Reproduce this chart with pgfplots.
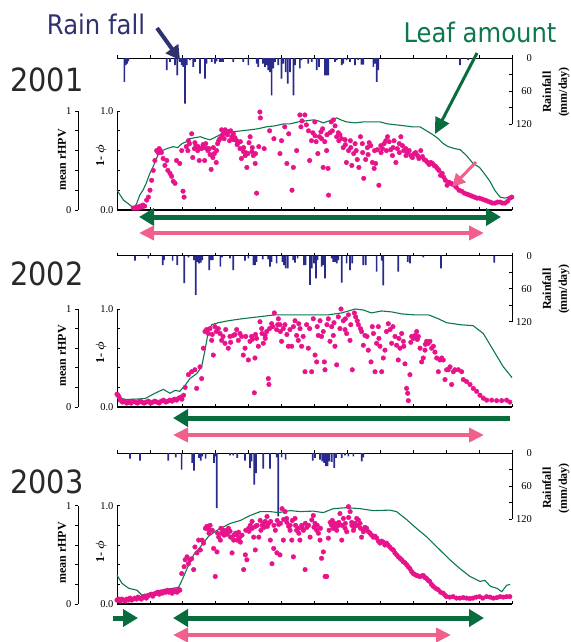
\documentclass[border=0pt]{standalone}
\usepackage{fontspec}
\setmainfont{Liberation Serif}
\newfontfamily\labfont{DejaVu Sans}[FakeStretch=0.9]
\usepackage{amsmath}
\usepackage{pgfplots}
\pgfplotsset{compat=1.18}
\usetikzlibrary{arrows.meta}

\definecolor{rainblue}{RGB}{40,42,140}
\definecolor{rainnavy}{RGB}{46,50,110}
\definecolor{leafgreen}{RGB}{12,120,75}
\definecolor{arrgreen}{RGB}{8,108,62}
\definecolor{dotpink}{RGB}{232,18,138}
\definecolor{arrpink}{RGB}{240,96,138}
\definecolor{yeargray}{RGB}{40,40,40}

\pgfplotsset{
  tlab/.style={font=\fontsize{10.5}{12}\selectfont},
  months/.style={xtick={0,30.42,60.83,91.25,121.67,152.08,182.5,212.92,243.33,273.75,304.17,334.58,365}, xticklabels={}},
  rainax/.style={scale only axis, width=395pt, height=66pt,
    xmin=0, xmax=365, ymin=-120, ymax=0,
    axis x line=top, axis y line=right, axis line style={-, line width=0.9pt},
    months, ytick={-120,-90,-60,-30,0}, yticklabels={120,,60,,0},
    tick align=inside, major tick length=3pt, tick style={black, line width=0.7pt},
    xtick style={yshift=3pt},
    ticklabel style={tlab}, yticklabel style={anchor=east, inner sep=0pt, xshift=20pt},
    clip=false},
  mainax/.style={scale only axis, width=395pt,
    xmin=0, xmax=365, ymin=0, ymax=1,
    axis x line=bottom, axis y line=left, axis line style={-},
    x axis line style={-, line width=1.6pt}, y axis line style={-, line width=0.9pt},
    months, ytick={0,0.2,0.4,0.6,0.8,1}, yticklabels={0.0,,,,,1.0},
    tick align=inside, major tick length=3pt, tick style={black, line width=0.7pt},
    ticklabel style={tlab}, clip=false},
  rhpvax/.style={scale only axis, width=1pt,
    xmin=0, xmax=1, ymin=0, ymax=1, hide x axis, axis y line=left,
    axis line style={-, line width=0.9pt},
    ytick={0,0.2,0.4,0.6,0.8,1}, yticklabels={0,,,,,1},
    tick align=outside, major tick length=3pt, tick style={black, line width=0.7pt},
    ticklabel style={tlab}},
  rainbars/.style={ybar, bar width=1.7pt, bar shift=0pt, fill=rainblue, draw=none},
  greenline/.style={leafgreen, line width=1.1pt, mark=none},
  dots/.style={color=dotpink, only marks, mark=*, mark size=2.3pt, mark options={fill=dotpink, draw=dotpink}},
}

\begin{document}
\begin{tikzpicture}
\path[use as bounding box] (0pt,0pt) rectangle (570pt,-642pt);

% ---------------- 2001 ----------------
\begin{axis}[rainax, at={(117pt,-124pt)}, anchor=south west]
\addplot[rainbars] coordinates {(6.8,-43.6) (8,-13) (9.2,-10) (10.5,-6) (45.9,-22) (49,-7) (53.6,-13) (55.7,-31.5) (58,-7) (59.7,-13) (61.3,-16) (62.8,-83) (64.4,-13) (67.4,-4) (70.5,-16) (72,-7) (76.7,-28.5) (81.3,-37.6) (82.8,-10) (87.5,-7) (90.5,-10) (92,-6) (95,-7) (96.7,-7) (98,-7) (107.5,-7) (116.7,-7) (121.4,-13) (129,-10) (130.6,-16) (135,-10) (136.7,-16) (138,-13) (139.8,-22) (141.4,-25.5) (142.9,-68) (144.4,-19) (146,-7) (149,-13) (152,-37.6) (153.7,-10) (155.8,-25.5) (157.7,-46.7) (159.8,-25.5) (163,-68) (164.5,-13) (169,-19) (170.6,-4) (176.8,-10) (180,-7) (184.5,-22) (186.6,-16) (192.2,-31.5) (193.7,-31.5) (195.3,-31.5) (201.4,-7) (203,-4) (207.6,-13) (209.1,-10) (212.2,-4) (215.3,-7) (220,-13) (223,-4) (226,-12) (227.6,-12) (236.9,-16) (238.4,-10) (240,-43.6) (241.5,-22) (317,-13) (324.6,-4)};
\end{axis}
\begin{axis}[mainax, height=99pt, at={(117pt,-210pt)}, anchor=south west]
\addplot[dots] coordinates {(15,.02) (16.5,.02) (18,.02) (18.5,.03) (20,.02) (21.6,.04) (23,.03) (24,.05) (25.5,.04) (27.4,.1) (29,.13) (30.5,.2) (32,.3) (33.5,.4) (35,.5) (36.7,.6) (38,.58) (39,.62) (40,.6) (41,.58) (42.6,.52) (44.3,.45) (46,.5) (47,.4) (49,.37) (50.5,.34) (52,.29) (53.6,.27) (55,.5) (58,.47) (59.8,.6) (61,.19) (62,.13) (64,.64) (65.5,.6) (67,.67) (69,.77) (70,.53) (71.5,.62) (73,.65) (74.5,.6) (76,.5) (78,.62) (79.5,.66) (81,.5) (82,.67) (84,.6) (85,.62) (87,.41) (88.6,.53) (90,.57) (91.7,.48) (93,.67) (95,.72) (96.7,.81) (98,.77) (100,.81) (101.5,.78) (103,.79) (104,.7) (106,.74) (107.5,.77) (109,.73) (110.6,.7) (112,.68) (113.7,.62) (115,.52) (116.8,.59) (118.5,.55) (120,.43) (121,.57) (123,.74) (124.7,.59) (126,.55) (127.7,.47) (129,.17) (131,.64) (132,.99) (132.5,.93) (136,.62) (141,.8) (145,.72) (150.6,.57) (152,.7) (155,.84) (157,.47) (158.7,.77) (161.7,.2) (163,.43) (166,.6) (169,.96) (171,.9) (173.6,.96) (175,.86) (178,.5) (179.7,.7) (181,.78) (182.8,.89) (184,.69) (185.6,.57) (187,.74) (188.5,.79) (190,.82) (190.5,.43) (192,.69) (193.7,.6) (195,.42) (195.5,.15) (196.7,.78) (198,.89) (200,.91) (201.5,.85) (203,.74) (204.5,.78) (206,.76) (207.5,.72) (209,.63) (210.8,.71) (212,.48) (214,.6) (215.6,.7) (217,.45) (218.7,.57) (220,.67) (222,.51) (223.5,.43) (225,.74) (226.7,.67) (228,.32) (229.8,.51) (231.4,.63) (233,.68) (234.5,.65) (236,.48) (237.6,.42) (239,.47) (240.7,.61) (242,.25) (243.8,.65) (245.3,.62) (246.8,.67) (248.4,.7) (250,.74) (251.5,.69) (253,.61) (254.5,.55) (256,.7) (257.7,.48) (259,.62) (260.8,.67) (262.3,.74) (263.8,.65) (265,.6) (266.8,.62) (268.4,.58) (270,.6) (271.5,.55) (273,.53) (274.6,.57) (276,.58) (277.7,.55) (279,.52) (280.7,.6) (282.2,.54) (283.8,.51) (285.4,.5) (287,.48) (288.5,.46) (290,.48) (291.5,.47) (293,.45) (294.5,.44) (296,.42) (297.5,.4) (299,.35) (300.5,.37) (302,.33) (303.5,.3) (305,.25) (306.8,.28) (308.6,.27) (310,.26) (311.7,.25) (313.5,.23) (316,.2) (318.5,.19) (321,.17) (323.5,.16) (325.8,.15) (328,.14) (330.4,.13) (332.7,.12) (335,.12) (337.5,.11) (340,.1) (342.3,.09) (344.7,.08) (347,.07) (349.3,.07) (351.6,.08) (354,.08) (356.3,.07) (358.6,.07) (361,.09) (363,.12) (364.8,.13)
(66,.7) (72,.68) (75,.64) (80,.63) (83,.62) (86,.56) (89,.63) (92,.6) (94,.7) (97,.75) (99,.72) (102,.76) (105,.8) (108,.71) (111,.66) (114,.69) (117,.63) (119,.58) (122,.68) (125,.63) (128,.57) (170,.84) (177,.8) (183,.75) (189,.72) (194,.76) (199,.8) (205,.7) (211,.66) (216,.63) (221,.6) (227,.58) (232,.56) (238,.6) (244,.58) (249,.6) (255,.63) (261,.58) (267,.55)};
\addplot[greenline] coordinates {(0,.20) (6,.10) (12,.05) (15,.02) (18,.06) (21,.15) (24,.2) (27,.27) (30,.36) (33.5,.44) (38,.56) (42,.6) (46,.62) (52,.64) (56,.63) (60,.67) (64,.69) (67,.72) (72,.73) (77,.74) (82,.72) (86,.71) (90,.73) (95,.76) (101,.77) (107.5,.79) (115,.8) (123,.81) (130,.82) (138,.84) (146,.85) (154,.87) (160,.87) (167.5,.89) (174,.9) (181,.91) (186,.9) (190.6,.88) (196,.9) (203,.93) (207,.91) (212,.89) (220,.88) (227.6,.89) (235,.89) (243,.89) (250,.87) (258,.86) (266,.85) (273,.84) (280,.84) (286,.8) (292,.76) (297,.72) (301.6,.67) (306,.64) (312,.62) (317,.61) (323,.55) (329,.47) (335,.43) (340,.36) (344.6,.29) (349,.2) (354,.13) (358,.12) (362,.13) (365,.14)};
\end{axis}
\begin{axis}[rhpvax, height=99pt, at={(78pt,-210pt)}, anchor=south west]
\end{axis}

% ---------------- 2002 ----------------
\begin{axis}[rainax, at={(117pt,-321.7pt)}, anchor=south west]
\addplot[rainbars] coordinates {(16.6,-9) (29,-4.8) (42.2,-17) (43.4,-8) (51.4,-9) (55.7,-17) (62.2,-50) (66,-3) (71.1,-8) (72.7,-71.4) (74.2,-11) (75.8,-14) (77.3,-12.6) (78.8,-8) (85.3,-26) (86.9,-8) (88.4,-8) (95.5,-20) (97,-3) (104.4,-4.8) (107.5,-26) (118.3,-9) (121.4,-4.8) (126,-17) (127.5,-17) (129,-11) (134.6,-6.6) (139.8,-6.6) (141.4,-20) (142.9,-11) (147.5,-14) (153,-11) (154.3,-17) (155.8,-23) (157.7,-23) (162.9,-8) (164.5,-12.6) (166.9,-4.8) (172.8,-17) (174.3,-17) (178.3,-53) (179.9,-23) (182,-14) (183.9,-41) (185.4,-8) (189.1,-20) (190.7,-17) (192.2,-41) (198.4,-4.8) (199.9,-11) (201.4,-11) (203,-14) (204.5,-8) (207.6,-49) (212.2,-14) (215.3,-26) (217.4,-14) (227.6,-17) (229.8,-17) (239.9,-29) (244.6,-9) (246,-54) (259.9,-29) (268.6,-11) (270.7,-14) (283,-3) (299.4,-23) (348.6,-12.6)};
\end{axis}
\begin{axis}[mainax, height=98pt, at={(117pt,-407pt)}, anchor=south west]
\addplot[dots] coordinates {(0,.13) (1,.12) (2,.1) (3,.07) (5,.05) (7,.06) (9,.04) (11,.05) (13,.04) (15,.06) (17,.05) (19,.04) (21,.06) (23,.05) (25,.04) (27,.05) (29,.06) (31,.04) (33,.05) (35,.06) (37,.05) (39,.04) (41,.06) (43,.07) (45,.05) (47,.06) (49,.07) (51,.06) (53,.08) (55,.07) (57,.09) (59,.1) (60,.08) (61.5,.12) (63,.2) (66,.33) (69,.36) (72,.38) (73.6,.19) (76.7,.41) (78.2,.29) (79.8,.6) (81.3,.77) (82.8,.79) (84.4,.75) (87.5,.68) (89,.53) (90.5,.82) (93.6,.8) (95.2,.75) (96.7,.68) (99.8,.65) (102.8,.6) (104.4,.72) (107.5,.73) (110.6,.79) (112.1,.68) (115.2,.72) (116.7,.53) (118.3,.6) (121.4,.48) (122.9,.67) (124.4,.72) (126.9,.145) (127.5,.5) (129,.7) (130.6,.62) (132.1,.87) (133.7,.8) (135.2,.65) (136.8,.73) (138.3,.77) (139.8,.29) (140.4,.23) (142.9,.85) (145.4,.96) (147.5,.79) (149.1,.9) (150.6,.84) (152.1,.67) (153.7,.8) (155.2,.84) (158.3,.62) (159.8,.79) (161.4,.62) (164.5,.88) (166,.73) (167.5,.68) (169.1,.8) (170.6,.62) (173.7,.36) (175.2,.84) (176.8,.6) (179.9,.36) (181.4,.9) (183,.53) (184.5,.46) (186,.73) (187.6,.88) (190.6,.77) (191.6,.46) (192.2,.38) (195.3,.9) (196.8,.67) (198.4,.82) (199.9,.73) (201.4,.62) (203,.43) (204.5,.92) (207,1.0) (209.1,.88) (210.7,.79) (212.2,.75) (213.8,.94) (215.3,.68) (217.4,.38) (219.3,.96) (220.5,.92) (223,.84) (226,.77) (227.6,.63) (229.1,.73) (232.2,.58) (234.7,.46) (235.9,.82) (238.4,.36) (239.9,.65) (241.5,.82) (243,.62) (244.6,.36) (246.1,.5) (247.6,.58) (250.7,.85) (252.3,.79) (253.8,.65) (256.9,.72) (258.4,.63) (259.9,.48) (261.5,.6) (263,.75) (264.6,.67) (266.1,.44) (267.6,.19) (268.6,.14) (269.2,.065) (270.7,.33) (272.3,.72) (273.8,.7) (275.4,.73) (276.9,.77) (278.4,.72) (281.5,.46) (283,.5) (284.6,.58) (286.1,.67) (287.7,.65) (289.2,.67) (290.7,.6) (292.3,.62) (293.8,.56) (295.4,.5) (296.9,.36) (298.4,.48) (300,.5) (301.5,.48) (303.1,.28) (304.6,.38) (306.1,.38) (307.7,.41) (309.2,.23) (310.8,.36) (312.3,.38) (315.4,.38) (318.5,.36) (320,.28) (323,.26) (326.2,.23) (329.2,.19) (332.3,.16) (335.4,.12) (338.5,.09) (341.6,.07) (346.2,.07) (350.8,.065) (355.4,.065) (360,.07) (363,.05)
(85.9,.8) (88,.74) (91.7,.77) (98,.72) (100.5,.79) (105,.66) (109,.74) (113.6,.75) (119,.72) (125,.69) (128,.74) (134,.75) (137,.7) (141,.8) (144,.82) (148.5,.84) (151,.77) (157,.74) (163,.82) (168,.85) (172,.72) (178,.8) (185,.82) (189,.72) (194,.84) (200.5,.86) (206,.8) (211,.9) (216,.84) (222,.88) (225,.8) (231,.72) (237,.75) (242,.7) (249,.77) (255,.82) (260.5,.7) (265,.62) (271.5,.66) (277.5,.69) (280,.6) (285,.64)};
\addplot[greenline] coordinates {(0,.105) (7.4,.077) (16.6,.08) (25.9,.086) (35,.14) (42.8,.18) (49,.14) (53.6,.17) (58,.16) (62.8,.22) (67.4,.29) (73.6,.34) (78.2,.41) (81.3,.58) (84.4,.77) (87.5,.84) (93.6,.86) (102.8,.88) (115,.9) (130.6,.92) (146,.94) (161.5,.94) (177,.94) (195,.94) (207.6,.96) (220,1.0) (227.6,.99) (235,.96) (244.6,.98) (254,.97) (263,.95) (275.4,.94) (288,.94) (297,.9) (304.6,.86) (317,.84) (329,.83) (338.5,.75) (347.7,.58) (357,.41) (365,.3)};
\end{axis}
\begin{axis}[rhpvax, height=98pt, at={(78pt,-407pt)}, anchor=south west]
\end{axis}

% ---------------- 2003 ----------------
\begin{axis}[rainax, at={(117pt,-519pt)}, anchor=south west]
\addplot[rainbars] coordinates {(12,-10.3) (21.2,-14) (47.4,-14) (54.2,-7.9) (59.7,-30) (69.6,-18) (71.1,-32) (75.8,-9) (77.3,-14) (78.8,-6) (81.9,-10.3) (89.6,-18) (90.5,-6) (92.1,-100) (104.4,-4.2) (107.5,-4.2) (111.2,-9) (118.3,-14) (122.9,-27.3) (124.4,-15.1) (126.9,-57.6) (128.4,-36.4) (135.2,-28.5) (141.4,-28.5) (147.5,-7.9) (149,-115) (152.1,-7.9) (155.8,-12) (180.8,-14) (182.9,-9) (187.6,-12) (189.7,-15) (191.5,-18) (193,-24) (194.6,-24) (196.2,-15) (198.4,-16) (200.8,-27) (202.4,-9) (207.6,-9) (210.7,-4.2) (213.8,-6) (218.4,-6) (226.1,-15) (227.6,-7.9)};
\end{axis}
\begin{axis}[mainax, height=98.3pt, at={(117pt,-604pt)}, anchor=south west]
\addplot[dots] coordinates {(0,.04) (1.5,.05) (3,.03) (4.5,.05) (6,.04) (7.5,.03) (9,.05) (10.5,.04) (12,.06) (13.5,.04) (15,.05) (16.5,.06) (18,.05) (19.5,.07) (21,.06) (22.5,.05) (24,.07) (25.5,.08) (27,.06) (28.5,.08) (30,.09) (31.5,.1) (33,.08) (34.5,.1) (36,.11) (37.5,.12) (39,.1) (40.5,.12) (42,.11) (43.5,.13) (45,.12) (46.5,.14) (48,.12) (49.5,.13) (51,.11) (52.5,.14) (54,.13) (55.5,.12) (57,.15) (58,.14) (59.8,.31) (62,.38) (63,.45) (64.7,.48) (66,.41) (67.5,.45) (69,.46) (70.8,.35) (72,.58) (73.9,.52) (75.4,.65) (77,.55) (78.6,.65) (80,.62) (81.7,.77) (83,.79) (84.5,.76) (86,.8) (89.3,.565) (90.8,.28) (92.4,.53) (94,.68) (95.5,.65) (97,.72) (98.6,.75) (100,.73) (101.7,.75) (103,.77) (104.5,.74) (106.3,.52) (107.8,.65) (109.4,.72) (110.9,.65) (112.4,.73) (114,.63) (115.5,.7) (117,.35) (118.6,.5) (120,.45) (121.7,.77) (123.2,.8) (124.8,.84) (126.3,.68) (127.8,.55) (129.4,.8) (131,.68) (132.3,.85) (134,.8) (135.5,.82) (137,.84) (138.6,.89) (140,.82) (141.7,.65) (143.2,.41) (144.8,.565) (146.3,.75) (147.8,.52) (149.4,.81) (150.6,.5) (152.5,.97) (153.7,.65) (154,.86) (155.3,.94) (156.8,.87) (158.6,.79) (159.9,.75) (161.5,.65) (163,.48) (164.5,.87) (166,.75) (167.6,.77) (169,.65) (170.7,.8) (172.3,.75) (173.8,.35) (175.4,.78) (178.4,.68) (180,.855) (181.4,.9) (183,.82) (184.5,.75) (186.1,.72) (187.6,.65) (189,.465) (190.7,.53) (192.3,.28) (193.8,.28) (195.3,.67) (197,.83) (198.4,.8) (200,.77) (201.5,.82) (203,.75) (204.6,.8) (206,.92) (207.7,.65) (209.2,.87) (210.8,.77) (212.3,.735) (213.8,.99) (215.4,.94) (216.9,.83) (218.5,.75) (220,.82) (221.5,.87) (223,.855) (224.6,.82) (226,.68) (227.7,.735) (229.2,.78) (230.7,.77) (232.3,.735) (233.8,.72) (235.3,.7) (236.9,.68) (238.4,.69) (240,.67) (241.5,.64) (243,.62) (244.5,.64) (246,.63) (247.5,.6) (249,.62) (250.5,.6) (252,.58) (253.7,.56) (255.3,.55) (256.8,.52) (258.4,.5) (260,.48) (261.4,.465) (263,.45) (264.5,.43) (266,.42) (267.6,.4) (269,.38) (270.7,.36) (272.2,.33) (273.7,.31) (275.3,.3) (276.8,.29) (278.3,.285) (279.9,.28) (281.5,.285) (283,.29) (284.5,.27) (286,.26) (287.5,.24) (289,.23) (290.6,.2) (292.2,.18) (294.5,.16) (296.8,.145) (299,.12) (301.4,.11) (303,.09) (304.5,.075) (307.5,.07) (310.6,.075) (313.7,.06) (316.8,.06) (320,.065) (323,.06) (326,.055) (329,.06) (332,.07) (335,.075) (338,.06) (341.5,.075) (344.6,.07) (347.7,.06) (351,.065) (354,.075) (357,.07) (360,.075) (363,.075)
(85,.72) (88,.75) (93,.72) (96,.77) (99,.7) (102,.71) (105,.68) (108,.7) (111,.7) (113,.67) (119,.75) (122,.74) (125,.77) (128,.79) (133,.75) (136,.78) (139,.79) (142,.84) (145,.8) (148,.85) (151,.82) (157,.83) (160,.8) (162,.85) (165,.8) (168,.72) (171,.77) (174,.82) (177,.8) (182,.78) (185,.8) (188,.77) (196,.75) (199,.85) (202,.78) (205,.83) (208,.8) (211,.82) (214,.88) (217,.8) (219,.78) (222,.8) (225,.77) (228,.75)};
\addplot[greenline] coordinates {(0,.295) (4.6,.21) (10.8,.16) (18.5,.14) (23,.09) (30.8,.11) (40,.14) (46,.15) (52,.16) (56.9,.17) (60,.24) (64.7,.36) (70.8,.5) (77,.58) (84.7,.69) (92.4,.75) (104.7,.82) (114,.85) (123,.9) (132.3,.94) (141.5,.94) (149.2,.93) (160,.95) (169.4,.94) (181.4,.945) (190.6,.93) (199.9,.97) (212,.98) (224.5,.97) (236.8,.95) (252,.955) (258.3,.94) (267.5,.86) (276.7,.77) (286,.685) (298.4,.55) (307.6,.45) (316.9,.36) (326.2,.28) (335.4,.23) (340,.24) (345,.18) (351,.16) (355.6,.125) (360,.19) (363.3,.2)};
\end{axis}
\begin{axis}[rhpvax, height=98.3pt, at={(78pt,-604pt)}, anchor=south west]
\end{axis}

% ---------------- labels ----------------
\foreach \yr/\yc in {2001/79.5, 2002/273.5, 2003/481.5}
  \node[font=\labfont\fontsize{32}{34}\selectfont, text=yeargray] at (47pt,-\yc pt) {\yr};
\foreach \yc in {160, 356, 553}
  \node[rotate=90, font=\bfseries\fontsize{12}{14}\selectfont] at (62pt,-\yc pt) {mean rHPV};
\foreach \yc in {156, 353, 552}
  \node[rotate=90, font=\bfseries\fontsize{12}{14}\selectfont] at (101pt,-\yc pt) {1- $\boldsymbol{\phi}$};
\foreach \yc in {92, 289, 488}
  \node[rotate=90, align=center, font=\bfseries\fontsize{12}{16}\selectfont] at (556pt,-\yc pt) {Rainfall\\(mm/day)};

\node[anchor=base, font=\labfont\fontsize{27}{30}\selectfont, text=rainnavy] at (96pt,-35pt) {Rain fall};
\node[anchor=base, font=\labfont\fontsize{27}{30}\selectfont, text=leafgreen] at (480pt,-43pt) {Leaf amount};

% pointer arrows
\draw[rainnavy, line width=4pt, -{Triangle[length=14pt,width=15pt]}] (157pt,-28pt) -- (180pt,-60pt);
\draw[arrgreen, line width=3pt, -{Triangle[length=16pt,width=15pt]}] (477pt,-53pt) -- (435pt,-134pt);
\draw[arrpink, line width=3pt, -{Triangle[length=13pt,width=13pt]}] (476pt,-162pt) -- (452pt,-187pt);

% period arrows
\tikzset{gA/.style={arrgreen, line width=5pt}, pA/.style={arrpink, line width=4pt},
  gT/.tip={Triangle[length=15pt,width=17pt]}, pT/.tip={Triangle[length=15pt,width=14pt]}}
\draw[gA, gT-gT] (139pt,-217pt) -- (501pt,-217pt);
\draw[pA, pT-pT] (139pt,-233pt) -- (484pt,-233pt);
\draw[gA, gT-] (173pt,-418pt) -- (510pt,-418pt);
\draw[pA, pT-pT] (173pt,-435pt) -- (484pt,-435pt);
\draw[gA, -gT] (113pt,-618pt) -- (138pt,-618pt);
\draw[gA, gT-gT] (173pt,-618pt) -- (484pt,-618pt);
\draw[pA, pT-pT] (173pt,-635pt) -- (451pt,-635pt);
\end{tikzpicture}
\end{document}
